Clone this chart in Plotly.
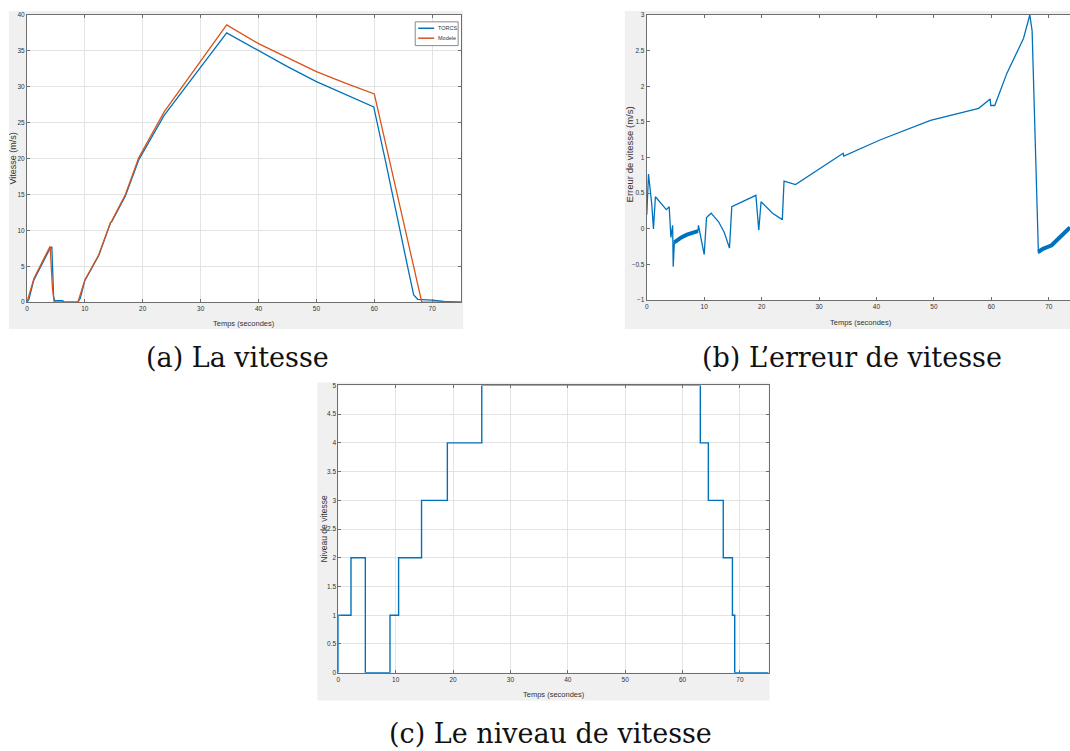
import plotly.graph_objects as go

W, H = 1070, 751

# ---------------- data ----------------
# (a) La vitesse
torcs_t = [0, 0.3, 1.2, 4.0, 4.3, 4.6, 4.8, 6.2, 6.3, 8.8, 9.2, 10.0, 12.4, 14.4, 14.7, 17.0, 19.3,
           23.7, 34.5, 40, 45, 50, 55, 59.9, 62, 64, 66, 66.8, 67.5, 70, 72, 75]
torcs_v = [0, 0.3, 3.1, 7.5, 7.7, 0.8, 0.2, 0.2, 0.05, 0, 0.5, 3.0, 6.5, 11.0, 11.3, 14.8, 19.8,
           26.0, 37.5, 35.0, 32.8, 30.7, 28.9, 27.2, 19.4, 11.5, 4.0, 1.0, 0.4, 0.3, 0.1, 0]
modele_t = [0, 1.2, 4.0, 4.4, 4.7, 8.8, 10.0, 12.4, 14.4, 14.7, 17.0, 19.3, 23.7, 34.5, 40, 45,
            50, 55, 60, 68.2, 75]
modele_v = [0, 3.3, 7.8, 2.0, 0, 0, 3.1, 6.6, 11.0, 11.4, 15.0, 20.1, 26.5, 38.6, 36.0, 34.0,
            32.1, 30.5, 29.0, 0, 0]
series_names = ["TORCS", "Modele"]

# (b) L'erreur de vitesse
err_t = [0, 0.3, 0.87, 1.16, 1.5, 1.9, 3.4, 3.9, 4.2, 4.5, 4.6, 4.8, 6.0, 7.0, 8.0, 8.9, 9.0,
         10.0, 10.4, 11.2, 12.5, 13.5, 14.4, 14.8, 19.0, 19.5, 19.9, 21.9, 23.6, 23.9, 25.9,
         32.0, 34.2, 34.3, 40.7, 49.4, 57.8, 59.8, 59.9, 60.6, 62.7, 65.6, 66.7, 67.1, 68.2,
         69.0, 70.5, 72.0, 73.7]
err_v = [0.2, 0.77, 0.34, 0.0, 0.45, 0.41, 0.27, 0.31, -0.12, 0.05, -0.53, -0.19, -0.12, -0.08,
         -0.05, -0.03, 0.05, -0.36, 0.16, 0.22, 0.10, -0.05, -0.27, 0.31, 0.47, -0.02, 0.38,
         0.22, 0.13, 0.67, 0.62, 0.95, 1.06, 1.02, 1.25, 1.52, 1.69, 1.82, 1.73, 1.73, 2.18,
         2.67, 3.0, 2.78, -0.34, -0.29, -0.23, -0.12, 0.02]
# oscillating (thick) portions of the error signal
band1_t = [4.8, 6.0, 7.0, 8.0, 8.9]
band1_v = [-0.19, -0.12, -0.08, -0.05, -0.03]
band2_t = [68.2, 69.0, 70.5, 72.0, 73.7]
band2_v = [-0.32, -0.28, -0.23, -0.12, 0.02]

# (c) Le niveau de vitesse
niv_t = [0, 0, 2.2, 4.7, 9.0, 10.5, 14.5, 19.0, 25.0, 63.1, 64.5, 67.1, 68.7, 69.1, 75]
niv_v = [0, 1, 2, 0, 1, 2, 3, 4, 5, 4, 3, 2, 1, 0, 0]

captions = ["(a) La vitesse", "(b) L’erreur de vitesse", "(c) Le niveau de vitesse"]
xlab = "Temps (secondes)"
ylabs = ["Vitesse (m/s)", "Erreur de vitesse (m/s)", "Niveau de vitesse"]

BLUE = "#0072BD"
ORANGE = "#D95319"
GRAY_BG = "#f0f0f0"
AX = "#6e6e6e"
GRID = "#e3e3e3"
TXT = "#333333"
SANS = "Liberation Sans, Arial, sans-serif"
SERIF = "DejaVu Serif, serif"


def px(x):
    return x / W


def py(y):
    return 1 - y / H


fig = go.Figure()

fig.add_trace(go.Scatter(x=torcs_t, y=torcs_v, mode="lines", name=series_names[0],
                         line=dict(color=BLUE, width=1.3), xaxis="x", yaxis="y"))
fig.add_trace(go.Scatter(x=modele_t, y=modele_v, mode="lines", name=series_names[1],
                         line=dict(color=ORANGE, width=1.3), xaxis="x", yaxis="y"))

fig.add_trace(go.Scatter(x=err_t, y=err_v, mode="lines",
                         line=dict(color=BLUE, width=1.3), xaxis="x2", yaxis="y2"))
fig.add_trace(go.Scatter(x=band1_t, y=band1_v, mode="lines",
                         line=dict(color=BLUE, width=4), xaxis="x2", yaxis="y2"))
fig.add_trace(go.Scatter(x=band2_t, y=band2_v, mode="lines",
                         line=dict(color=BLUE, width=4), xaxis="x2", yaxis="y2"))

fig.add_trace(go.Scatter(x=niv_t, y=niv_v, mode="lines", line_shape="hv",
                         line=dict(color=BLUE, width=1.4), xaxis="x3", yaxis="y3"))

common = dict(showline=True, linecolor=AX, linewidth=1, ticks="inside", ticklen=3,
              tickcolor=AX, zeroline=False, tickfont=dict(family=SANS, size=6.5, color=TXT),
              gridcolor=GRID, gridwidth=1)

# panel domains in pixels: (left, top, right, bottom)
A = (25, 11, 460, 301)
B = (646, 11, 1070, 299)
C = (337, 385, 768, 675)

fig.update_layout(
    xaxis=dict(domain=[px(A[0]), px(A[2])], range=[0, 75], dtick=10, anchor="y",
               mirror="ticks", showgrid=True, **common),
    yaxis=dict(domain=[py(A[3]), py(A[1])], range=[0, 40], dtick=5, anchor="x",
               mirror="ticks", showgrid=True, **common),
    xaxis2=dict(domain=[px(B[0]), px(B[2])], range=[0, 73.7], dtick=10, anchor="y2",
                mirror="ticks", showgrid=False, **common),
    yaxis2=dict(domain=[py(B[3]), py(B[1])], range=[-1, 3], dtick=0.5, anchor="x2",
                mirror=False, showgrid=False, **common),
    xaxis3=dict(domain=[px(C[0]), px(C[2])], range=[0, 75], dtick=10, anchor="y3",
                mirror="ticks", showgrid=True, **common),
    yaxis3=dict(domain=[py(C[3]), py(C[1])], range=[0, 5], dtick=0.5, anchor="x3",
                mirror="ticks", showgrid=True, **common),
)

shapes = []
for (x0, y0, x1, y1) in [(7, 7, 462, 328), (624, 7, 1070, 328), (316, 382, 769, 703)]:
    shapes.append(dict(type="rect", xref="paper", yref="paper", x0=px(x0), x1=px(x1),
                       y0=py(y1), y1=py(y0), fillcolor=GRAY_BG, line=dict(width=0),
                       layer="below"))
for (x0, y0, x1, y1) in [A, B, C]:
    shapes.append(dict(type="rect", xref="paper", yref="paper", x0=px(x0), x1=px(x1),
                       y0=py(y1), y1=py(y0), fillcolor="white", line=dict(width=0),
                       layer="below"))

# compact MATLAB-style legend box for panel (a)
shapes.append(dict(type="rect", xref="paper", yref="paper", x0=px(414), x1=px(457),
                   y0=py(42), y1=py(18), fillcolor="white",
                   line=dict(color="#8a8a8a", width=1), layer="above"))
ann = []
for name, col, yy in zip(series_names, [BLUE, ORANGE], [24.5, 34.5]):
    shapes.append(dict(type="line", xref="paper", yref="paper", x0=px(417), x1=px(433),
                       y0=py(yy), y1=py(yy), line=dict(color=col, width=1.5), layer="above"))
    ann.append(dict(text=name, x=px(434.5), y=py(yy), xref="paper", yref="paper",
                    showarrow=False, xanchor="left", yanchor="middle",
                    font=dict(family=SANS, size=5.5, color=TXT)))

# axis titles
for (cx, cy) in [(242, 323), (861, 322), (553, 697)]:
    ann.append(dict(text=xlab, x=px(cx), y=py(cy), xref="paper", yref="paper",
                    showarrow=False, xanchor="center", yanchor="middle",
                    font=dict(family=SANS, size=7.5, color=TXT)))
for lab, (cx, cy), fs in zip(ylabs, [(11, 156), (629, 152), (323, 530)], [9, 9.5, 8.5]):
    ann.append(dict(text=lab, x=px(cx), y=py(cy), xref="paper", yref="paper",
                    showarrow=False, xanchor="center", yanchor="middle", textangle=-90,
                    font=dict(family=SANS, size=fs, color=TXT)))
# captions
for cap, (cx, cy) in zip(captions, [(236, 357), (852, 357), (550, 736)]):
    ann.append(dict(text=cap, x=px(cx), y=py(cy), xref="paper", yref="paper",
                    showarrow=False, xanchor="center", yanchor="middle",
                    font=dict(family=SERIF, size=27, color="#111111")))

fig.update_layout(
    width=W, height=H, margin=dict(l=0, r=0, t=0, b=0),
    paper_bgcolor="white", plot_bgcolor="white",
    shapes=shapes, annotations=ann,
    showlegend=False,
)

fig.write_html("out.html", config={"displayModeBar": False},
               post_script="document.body.style.margin='0px';document.body.style.overflow='hidden';")
